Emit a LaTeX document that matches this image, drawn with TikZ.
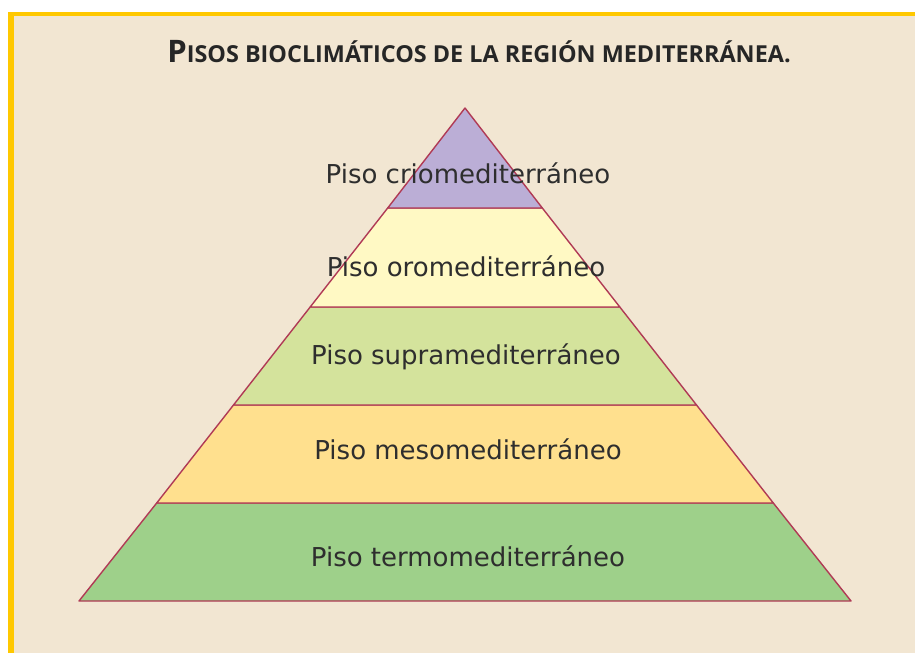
\documentclass[tikz,border=0pt]{standalone}
\usepackage{fontspec}
\setmainfont{DejaVu Sans}
\newfontfamily\titlefont{Open Sans}
\definecolor{bgbeige}{HTML}{F2E6D2}
\definecolor{frameyellow}{HTML}{FFC800}
\definecolor{edgered}{HTML}{B03A55}
\definecolor{crio}{HTML}{BBAED6}
\definecolor{oro}{HTML}{FFF9C4}
\definecolor{supra}{HTML}{D4E39C}
\definecolor{meso}{HTML}{FFE08E}
\definecolor{termo}{HTML}{9ED08A}
\definecolor{labelgray}{HTML}{2E2E2E}
\tikzset{
	band/.style={draw=edgered, line width=1.4pt, line join=round},
	floorlabel/.style={text=labelgray, font=\fontsize{26}{30}\selectfont, inner sep=0pt}
}
\begin{document}
\begin{tikzpicture}[x=1pt, y=-1pt]
		\useasboundingbox (0,0) rectangle (915,653);
		% Frame
		\fill[white] (0,0) rectangle (915,653);
		\fill[bgbeige] (14,16) rectangle (915,653);
		\fill[frameyellow] (8,12) rectangle (915,16);
		\fill[frameyellow] (8,12) rectangle (14,653);

		% Title
		\node[text=black!85, inner sep=0pt] (title) at (479,52) {\titlefont\bfseries\fontsize{31}{36}\selectfont P\fontsize{23.4}{28}\selectfont ISOS BIOCLIMÁTICOS DE LA REGIÓN MEDITERRÁNEA.};

		% Bands
		\draw[band, fill=termo] (79,601) -- (156.7,503) -- (773.3,503) -- (851,601) -- cycle;
		\draw[band, fill=meso] (156.7,503) -- (233.5,405) -- (696.5,405) -- (773.3,503) -- cycle;
		\draw[band, fill=supra] (233.5,405) -- (310.2,307) -- (619.8,307) -- (696.5,405) -- cycle;
		\draw[band, fill=oro] (310.2,307) -- (387.7,208) -- (542.3,208) -- (619.8,307) -- cycle;
		\draw[band, fill=crio] (387.7,208) -- (465,108) -- (542.3,208) -- cycle;

		% Labels
		\node[floorlabel] (crio) at (468,173) {Piso criomediterráneo};
		\node[floorlabel] (oro) at (466,266) {Piso oromediterráneo};
		\node[floorlabel] (supra) at (466,357) {Piso supramediterráneo};
		\node[floorlabel] (meso) at (468,449) {Piso mesomediterráneo};
		\node[floorlabel] (termo) at (468,556) {Piso termomediterráneo};
	\end{tikzpicture}
\end{document}
